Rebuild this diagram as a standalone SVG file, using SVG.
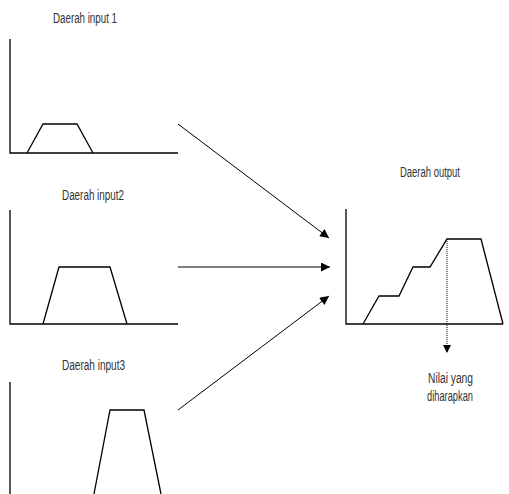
<svg xmlns="http://www.w3.org/2000/svg" width="509" height="494" viewBox="0 0 509 494">
<defs>
<style>
.ax{fill:none;stroke:#000;stroke-width:1.3}
.mf{fill:none;stroke:#000;stroke-width:1.3;stroke-linejoin:miter}
.con{fill:none;stroke:#000;stroke-width:1}
.lbl{font-family:"Liberation Sans",Arial,sans-serif;font-size:14px;fill:#333}
</style>
<marker id="ah" viewBox="0 0 10 10" refX="10" refY="5" markerWidth="12" markerHeight="9" markerUnits="userSpaceOnUse" orient="auto">
<path d="M0,0 L10,5 L0,10 Z" fill="#000"/>
</marker>
<marker id="ah2" viewBox="0 0 10 10" refX="10" refY="5" markerWidth="17" markerHeight="8" markerUnits="userSpaceOnUse" orient="auto">
<path d="M0,0 L10,5 L0,10 Z" fill="#000"/>
</marker>
</defs>
<rect width="509" height="494" fill="#fff"/>
<g id="input1">
<text class="lbl" x="53" y="23" textLength="64" lengthAdjust="spacingAndGlyphs">Daerah input 1</text>
<polyline class="ax" points="10,39 10,153 178,153"/>
<polyline class="mf" points="27,153 43,124 77,124 93,153"/>
</g>
<g id="input2">
<text class="lbl" x="62" y="200" textLength="62" lengthAdjust="spacingAndGlyphs">Daerah input2</text>
<polyline class="ax" points="10,210 10,324 178,324"/>
<polyline class="mf" points="43,324 59,267 110,267 127,324"/>
</g>
<g id="input3">
<text class="lbl" x="62" y="370" textLength="63" lengthAdjust="spacingAndGlyphs">Daerah input3</text>
<polyline class="ax" points="10,382 10,494"/>
<polyline class="mf" points="94,494 110,410 144,410 161,494"/>
</g>
<g id="output">
<text class="lbl" x="400" y="177" textLength="60" lengthAdjust="spacingAndGlyphs">Daerah output</text>
<polyline class="ax" points="346,209 346,324 503,324"/>
<polyline class="mf" points="363,324 379,296 399,296 413,267 430,267 447,239 481,239 503,324"/>
</g>
<g id="result">
<text class="lbl" x="428" y="383" textLength="45" lengthAdjust="spacingAndGlyphs">Nilai yang</text>
<text class="lbl" x="427" y="401" textLength="46" lengthAdjust="spacingAndGlyphs">diharapkan</text>
</g>
<g id="connectors">
<line class="con" x1="178" y1="124" x2="329" y2="238" marker-end="url(#ah)"/>
<line class="con" x1="178" y1="267" x2="330" y2="267" marker-end="url(#ah)"/>
<line class="con" x1="178" y1="410" x2="329" y2="296" marker-end="url(#ah)"/>
<line class="con" x1="447" y1="239" x2="447" y2="353" stroke-dasharray="1,1" marker-end="url(#ah2)"/>
</g>
</svg>
